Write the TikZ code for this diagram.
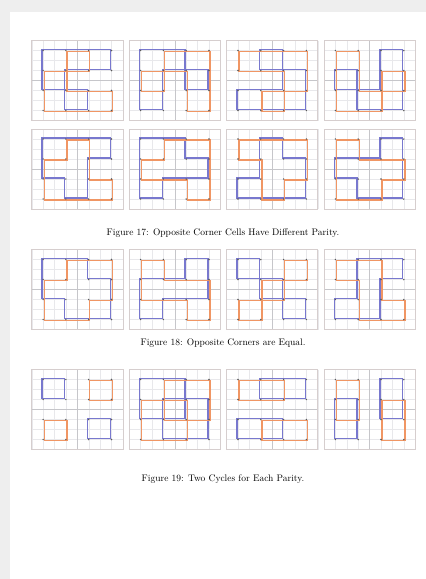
\documentclass[tikz,border=0pt]{standalone}
\usepackage{tikz}
\usetikzlibrary{positioning}

\definecolor{cycblue}{RGB}{120,120,206}
\definecolor{cycorange}{RGB}{240,150,100}
\definecolor{boxgray}{RGB}{214,206,206}
\definecolor{gridgray}{RGB}{232,232,235}
\definecolor{midgray}{RGB}{198,198,202}
\definecolor{pagegray}{RGB}{238,238,238}

\tikzset{
  finegrid/.style={draw=gridgray,line width=0.4pt},
  midgrid/.style={draw=midgray,line width=0.6pt},
  panelbox/.style={draw=boxgray,line width=0.8pt},
  bluecyc/.style={draw=cycblue,line width=1.3pt,line join=miter,shift={(-1.1pt,1.1pt)}},
  orangecyc/.style={draw=cycorange,line width=1.3pt,line join=miter,shift={(1.1pt,-1.1pt)}},
  ptdot/.style={fill=black!65},
  captext/.style={font=\fontsize{9.5}{11}\selectfont,inner sep=0pt}
}

% one 4x4 panel: centre x, centre y, blue cycles, orange cycles
\newcommand{\cyclepanel}[4]{%
  \begin{scope}[shift={(#1,#2)},x=22.8pt,y=-20pt,shift={(-1.5,-1.5)}]
    \foreach \k in {-0.5,0,...,3.5} {
      \draw[finegrid] (\k,-0.5) -- (\k,3.5);
      \draw[finegrid] (-0.5,\k) -- (3.5,\k);
    }
    \draw[midgrid] (1.5,-0.5) -- (1.5,3.5) (-0.5,1.5) -- (3.5,1.5);
    \draw[panelbox] (-0.5,-0.5) rectangle (3.5,3.5);
    \draw[bluecyc] #3;
    \draw[orangecyc] #4;
    \foreach \i in {0,...,3}
      \foreach \j in {0,...,3}
        \fill[ptdot] (\i,\j) circle (0.8pt);
  \end{scope}}

\begin{document}
\begin{tikzpicture}[x=1pt,y=-1pt]
  \useasboundingbox (0,0) rectangle (426,579);
  \fill[pagegray] (0,0) rectangle (426,579);
  \fill[white] (10,12) rectangle (426,579);

  % Figure 17
  \cyclepanel{77.3}{80.5}{(0,0) -- (3,0) -- (3,1) -- (1,1) -- (1,3) -- (2,3) -- (2,2) -- (0,2) -- cycle}
    {(1,0) -- (2,0) -- (2,1) -- (0,1) -- (0,3) -- (3,3) -- (3,2) -- (1,2) -- cycle}
  \cyclepanel{174.8}{80.5}{(0,0) -- (2,0) -- (2,2) -- (3,2) -- (3,1) -- (1,1) -- (1,3) -- (0,3) -- cycle}
    {(1,0) -- (3,0) -- (3,3) -- (2,3) -- (2,1) -- (0,1) -- (0,2) -- (1,2) -- cycle}
  \cyclepanel{272.2}{80.5}{(1,0) -- (2,0) -- (2,2) -- (0,2) -- (0,3) -- (3,3) -- (3,1) -- (1,1) -- cycle}
    {(0,0) -- (3,0) -- (3,2) -- (1,2) -- (1,3) -- (2,3) -- (2,1) -- (0,1) -- cycle}
  \cyclepanel{369.6}{80.5}{(2,0) -- (3,0) -- (3,3) -- (1,3) -- (1,1) -- (0,1) -- (0,2) -- (2,2) -- cycle}
    {(0,0) -- (1,0) -- (1,2) -- (3,2) -- (3,1) -- (2,1) -- (2,3) -- (0,3) -- cycle}

  \cyclepanel{77.3}{169}{(0,0) -- (3,0) -- (3,1) -- (2,1) -- (2,3) -- (1,3) -- (1,2) -- (0,2) -- cycle}
    {(1,0) -- (2,0) -- (2,2) -- (3,2) -- (3,3) -- (0,3) -- (0,1) -- (1,1) -- cycle}
  \cyclepanel{174.8}{169}{(0,0) -- (2,0) -- (2,1) -- (3,1) -- (3,2) -- (1,2) -- (1,3) -- (0,3) -- cycle}
    {(1,0) -- (3,0) -- (3,3) -- (2,3) -- (2,2) -- (0,2) -- (0,1) -- (1,1) -- cycle}
  \cyclepanel{272.2}{169}{(1,0) -- (2,0) -- (2,1) -- (3,1) -- (3,3) -- (0,3) -- (0,2) -- (1,2) -- cycle}
    {(0,0) -- (3,0) -- (3,2) -- (2,2) -- (2,3) -- (1,3) -- (1,1) -- (0,1) -- cycle}
  \cyclepanel{369.6}{169}{(2,0) -- (3,0) -- (3,3) -- (1,3) -- (1,2) -- (0,2) -- (0,1) -- (2,1) -- cycle}
    {(0,0) -- (1,0) -- (1,1) -- (3,1) -- (3,2) -- (2,2) -- (2,3) -- (0,3) -- cycle}

  \node[captext] (cap17) at (223,233) {Figure 17: Opposite Corner Cells Have Different Parity.};

  % Figure 18
  \cyclepanel{77.3}{289.5}{(0,0) -- (2,0) -- (2,1) -- (3,1) -- (3,3) -- (1,3) -- (1,2) -- (0,2) -- cycle}
    {(1,0) -- (3,0) -- (3,2) -- (2,2) -- (2,3) -- (0,3) -- (0,1) -- (1,1) -- cycle}
  \cyclepanel{174.8}{289.5}{(2,0) -- (3,0) -- (3,2) -- (1,2) -- (1,3) -- (0,3) -- (0,1) -- (2,1) -- cycle}
    {(0,0) -- (1,0) -- (1,1) -- (3,1) -- (3,3) -- (2,3) -- (2,2) -- (0,2) -- cycle}
  \cyclepanel{272.2}{289.5}{(0,0) -- (1,0) -- (1,2) -- (3,2) -- (3,3) -- (2,3) -- (2,1) -- (0,1) -- cycle}
    {(2,0) -- (3,0) -- (3,1) -- (1,1) -- (1,3) -- (0,3) -- (0,2) -- (2,2) -- cycle}
  \cyclepanel{369.6}{289.5}{(1,0) -- (3,0) -- (3,1) -- (2,1) -- (2,3) -- (0,3) -- (0,2) -- (1,2) -- cycle}
    {(0,0) -- (2,0) -- (2,2) -- (3,2) -- (3,3) -- (1,3) -- (1,1) -- (0,1) -- cycle}

  \node[captext] (cap18) at (223,343.5) {Figure 18: Opposite Corners are Equal.};

  % Figure 19
  \cyclepanel{77.3}{409.5}{(0,0) -- (1,0) -- (1,1) -- (0,1) -- cycle (2,2) -- (3,2) -- (3,3) -- (2,3) -- cycle}
    {(2,0) -- (3,0) -- (3,1) -- (2,1) -- cycle (0,2) -- (1,2) -- (1,3) -- (0,3) -- cycle}
  \cyclepanel{174.8}{409.5}{(0,0) -- (2,0) -- (2,2) -- (0,2) -- cycle (1,1) -- (3,1) -- (3,3) -- (1,3) -- cycle}
    {(1,0) -- (3,0) -- (3,2) -- (1,2) -- cycle (0,1) -- (2,1) -- (2,3) -- (0,3) -- cycle}
  \cyclepanel{272.2}{409.5}{(1,0) -- (3,0) -- (3,1) -- (1,1) -- cycle (0,2) -- (2,2) -- (2,3) -- (0,3) -- cycle}
    {(0,0) -- (2,0) -- (2,1) -- (0,1) -- cycle (1,2) -- (3,2) -- (3,3) -- (1,3) -- cycle}
  \cyclepanel{369.6}{409.5}{(0,1) -- (1,1) -- (1,3) -- (0,3) -- cycle (2,0) -- (3,0) -- (3,2) -- (2,2) -- cycle}
    {(0,0) -- (1,0) -- (1,2) -- (0,2) -- cycle (2,1) -- (3,1) -- (3,3) -- (2,3) -- cycle}

  \node[captext] (cap19) at (223,479) {Figure 19: Two Cycles for Each Parity.};
\end{tikzpicture}
\end{document}
